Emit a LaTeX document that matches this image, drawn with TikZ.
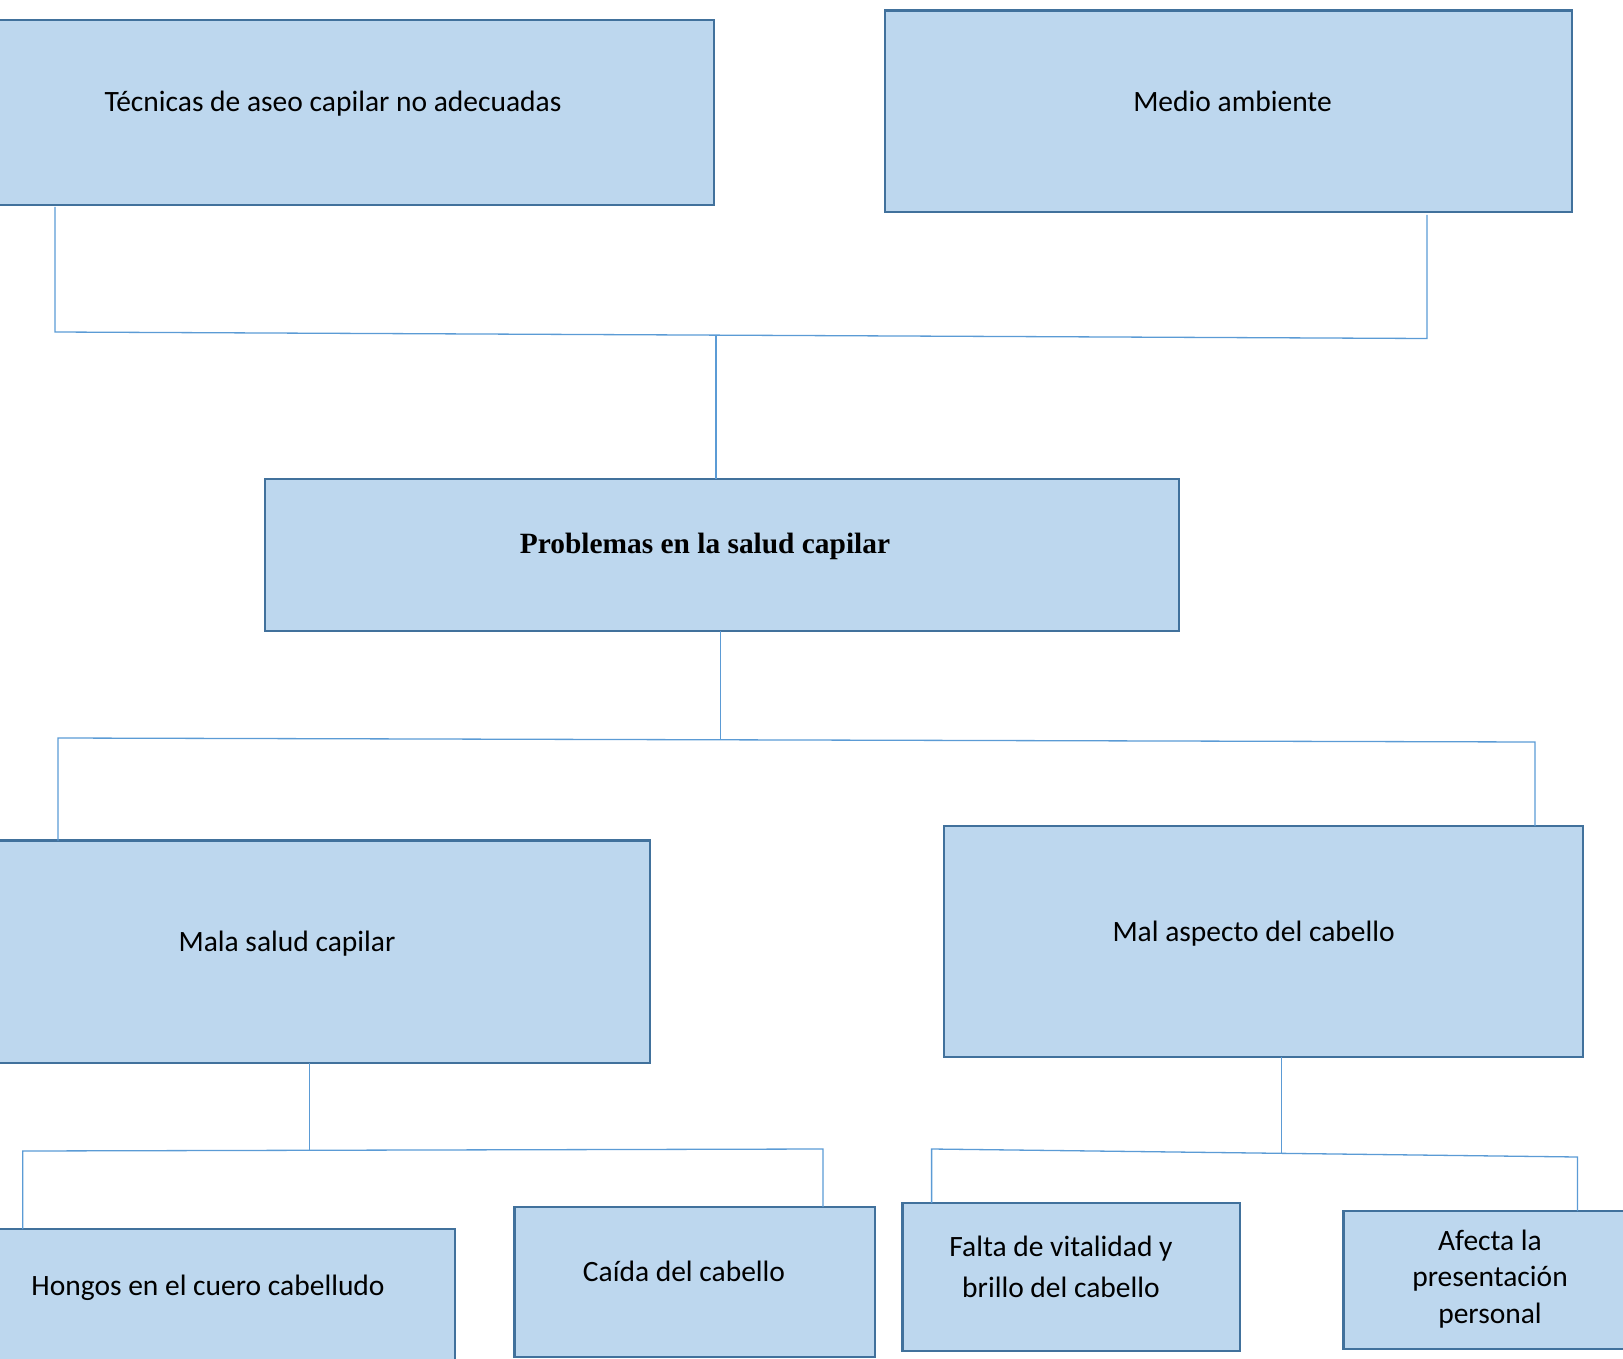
\documentclass[tikz,border=0pt]{standalone}
\usepackage{fontspec}
\setmainfont{Carlito}
\newfontfamily\timesfont{Liberation Serif}
\definecolor{boxfill}{HTML}{BDD7EE}
\definecolor{boxline}{HTML}{41719C}
\definecolor{connline}{HTML}{5B9BD5}
\tikzset{
  box/.style={draw=boxline, fill=boxfill, line width=2.6pt, rectangle, anchor=north west, inner sep=0pt, outer sep=0pt},
  lbl/.style={font=\fontsize{29.5}{35}\selectfont, text=black, inner sep=0pt, anchor=base},
  conn/.style={draw=connline, line width=1.3pt}
}
\begin{document}
\begin{tikzpicture}[x=1pt,y=-1pt]
\useasboundingbox (0,0) rectangle (1623,1359);
% boxes
\node[box, minimum width=724pt, minimum height=185pt] (b1) at (-10,20) {};
\node[box, minimum width=687pt, minimum height=201.6pt] (b2) at (885,10.4) {};
\node[box, minimum width=914pt, minimum height=152pt] (b3) at (265,479) {};
\node[box, minimum width=660pt, minimum height=222.5pt] (b4) at (-10,840.5) {};
\node[box, minimum width=639pt, minimum height=231pt] (b5) at (944,826) {};
\node[box, minimum width=465pt, minimum height=150pt] (b6) at (-10,1229) {};
\node[box, minimum width=360.5pt, minimum height=150pt] (b7) at (514.5,1207) {};
\node[box, minimum width=337.4pt, minimum height=148pt] (b8) at (902.6,1203) {};
\node[box, minimum width=290pt, minimum height=138pt] (b9) at (1343.6,1211) {};
% labels
\node[lbl] (l1) at (333,112) {Técnicas de aseo capilar no adecuadas};
\node[lbl] (l2) at (1232.5,112) {Medio ambiente};
\node[lbl, font=\timesfont\bfseries\fontsize{29.4}{35}\selectfont] (l3) at (705,553) {Problemas en la salud capilar};
\node[lbl] (l4) at (287,951.7) {Mala salud capilar};
\node[lbl] (l5) at (1253.6,941) {Mal aspecto del cabello};
\node[lbl] (l6) at (208,1295) {Hongos en el cuero cabelludo};
\node[lbl] (l7) at (684,1281.7) {Caída del cabello};
\node[lbl, anchor=center, align=center, font=\fontsize{29.5}{41.7}\selectfont] (l8) at (1061,1267) {Falta de vitalidad y\\brillo del cabello};
\node[lbl, anchor=center, align=center, font=\fontsize{29.5}{36.5}\selectfont] (l9) at (1490,1279) {Afecta la\\presentación\\personal};
% junction coordinates
\coordinate (t1) at (55,332);
\coordinate (t2) at (1427,338.5);
\coordinate (tm) at (716,335.3);
\coordinate (m1) at (58,738);
\coordinate (m2) at (1535,742);
\coordinate (mm) at (720.5,739.8);
\coordinate (p1) at (22.8,1151);
\coordinate (p2) at (823,1149);
\coordinate (pm) at (309.5,1150.4);
\coordinate (q1) at (931.6,1149);
\coordinate (q2) at (1577.5,1157);
\coordinate (qm) at (1281.5,1153.5);
% connectors
\draw[conn] ([yshift=-2pt]b1.south -| t1) -- (t1) -- (t2) -- ([yshift=-3pt]b2.south -| t2);
\draw[conn] (tm) -- (b3.north -| tm);
\draw[conn] (b3.south -| mm) -- (mm);
\draw[conn] (b4.north -| m1) -- (m1) -- (m2) -- (b5.north -| m2);
\draw[conn] (b4.south -| pm) -- (pm);
\draw[conn] (b6.north -| p1) -- (p1) -- (p2) -- (b7.north -| p2);
\draw[conn] (b5.south -| qm) -- (qm);
\draw[conn] (b8.north -| q1) -- (q1) -- (q2) -- (b9.north -| q2);
\end{tikzpicture}
\end{document}
